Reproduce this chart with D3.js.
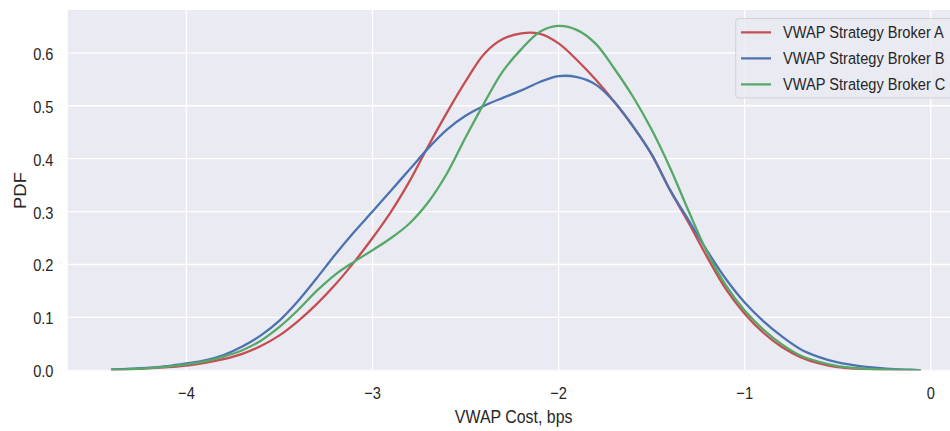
<!DOCTYPE html>
<html>
<head>
<meta charset="utf-8">
<script src="https://cdn.jsdelivr.net/npm/d3@7"></script>
<style>
  html, body { margin: 0; padding: 0; background: #ffffff; }
  svg { display: block; }
  text { font-family: "Liberation Sans", Arial, sans-serif; fill: #262626; }
</style>
</head>
<body>
<svg id="chart" width="950" height="431"></svg>
<script>
// ---- data ----
const xs = [-4.4,-4.3,-4.2,-4.1,-4.0,-3.9,-3.8,-3.7,-3.6,-3.5,-3.4,-3.3,-3.2,-3.1,-3.0,-2.9,-2.8,-2.7,-2.6,-2.5,-2.4,-2.3,-2.2,-2.1,-2.0,-1.9,-1.8,-1.7,-1.6,-1.5,-1.4,-1.3,-1.2,-1.1,-1.0,-0.9,-0.8,-0.7,-0.6,-0.5,-0.4,-0.3,-0.2,-0.1,-0.06];
const brokerA = [0.001,0.002,0.004,0.006,0.009,0.014,0.021,0.031,0.046,0.066,0.093,0.125,0.162,0.204,0.250,0.300,0.358,0.424,0.487,0.546,0.598,0.626,0.637,0.636,0.618,0.586,0.549,0.507,0.461,0.408,0.340,0.278,0.213,0.153,0.107,0.071,0.044,0.025,0.013,0.006,0.003,0.0012,0.0005,0.0002,0.0001];
const brokerB = [0.001,0.003,0.005,0.008,0.013,0.019,0.029,0.045,0.066,0.094,0.131,0.174,0.219,0.261,0.300,0.340,0.380,0.420,0.455,0.481,0.500,0.515,0.529,0.545,0.556,0.554,0.540,0.507,0.461,0.408,0.340,0.283,0.225,0.172,0.128,0.093,0.064,0.040,0.025,0.015,0.009,0.005,0.002,0.001,0.0005];
const brokerC = [0.001,0.002,0.004,0.007,0.011,0.017,0.026,0.038,0.056,0.082,0.114,0.150,0.181,0.205,0.227,0.250,0.278,0.318,0.372,0.440,0.505,0.565,0.607,0.640,0.651,0.643,0.617,0.570,0.517,0.455,0.382,0.300,0.222,0.160,0.113,0.077,0.049,0.028,0.016,0.008,0.004,0.002,0.001,0.0004,0.0002];
const seriesNames = ["VWAP Strategy Broker A","VWAP Strategy Broker B","VWAP Strategy Broker C"];
const seriesColors = ["#C44E52","#4C72B0","#55A868"];
const xTicks = [-4,-3,-2,-1,0];
const yTicks = [0.0,0.1,0.2,0.3,0.4,0.5,0.6];
const xLabel = "VWAP Cost, bps";
const yLabel = "PDF";

// ---- layout ----
const plot = {left: 67.7, top: 10, right: 959.6, bottom: 370.3};
const SX = 0.86; // horizontal text squeeze seen in the reference
const svg = d3.select("#chart");

const x = d3.scaleLinear().domain([-4.638, 0.155]).range([plot.left, plot.right]);
const y = d3.scaleLinear().domain([0, 0.681]).range([plot.bottom, plot.top]);

svg.append("defs").append("clipPath").attr("id","clip")
  .append("rect").attr("x",plot.left).attr("y",plot.top)
  .attr("width",plot.right-plot.left).attr("height",plot.bottom-plot.top);

svg.append("rect").attr("x",plot.left).attr("y",plot.top)
  .attr("width",plot.right-plot.left).attr("height",plot.bottom-plot.top)
  .attr("fill","#EAEAF2");

// gridlines
const grid = svg.append("g").attr("clip-path","url(#clip)");
grid.selectAll("line.gx").data(xTicks).enter().append("line")
  .attr("x1",d=>x(d)).attr("x2",d=>x(d)).attr("y1",plot.top).attr("y2",plot.bottom)
  .attr("stroke","#ffffff").attr("stroke-width",1.3);
grid.selectAll("line.gy").data(yTicks).enter().append("line")
  .attr("x1",plot.left).attr("x2",plot.right).attr("y1",d=>y(d)).attr("y2",d=>y(d))
  .attr("stroke","#ffffff").attr("stroke-width",1.3);

// axes via d3 axis generators (lines hidden, labels styled)
const fmtX = d => d < 0 ? "\u2212" + Math.abs(d) : String(d);
const xAxis = svg.append("g").attr("transform",`translate(0,${plot.bottom})`)
  .call(d3.axisBottom(x).tickValues(xTicks).tickFormat(fmtX).tickSize(0).tickPadding(0));
xAxis.select(".domain").remove();
xAxis.selectAll(".tick").each(function(d){
  d3.select(this).attr("transform", null);
  d3.select(this).select("text")
    .attr("x", 0).attr("y", 0).attr("dy", null)
    .attr("font-size","17px").attr("fill","#262626")
    .attr("transform", `translate(${x(d)},28.7) scale(${SX},1)`);
});

const yAxis = svg.append("g").attr("transform",`translate(${plot.left},0)`)
  .call(d3.axisLeft(y).tickValues(yTicks).tickFormat(d3.format(".1f")).tickSize(0).tickPadding(0));
yAxis.select(".domain").remove();
yAxis.selectAll(".tick").each(function(d){
  d3.select(this).attr("transform", null);
  d3.select(this).select("text")
    .attr("x",0).attr("y",0).attr("dy",null)
    .attr("text-anchor","end")
    .attr("font-size","17px").attr("fill","#262626")
    .attr("transform", `translate(${-14.2},${y(d)+7}) scale(${SX},1)`);
});

// axis titles
svg.append("text").text(xLabel)
  .attr("text-anchor","middle").attr("font-size","18.5px")
  .attr("transform",`translate(${(plot.left+plot.right)/2},423) scale(${SX},1)`);
svg.append("text").text(yLabel)
  .attr("text-anchor","middle").attr("font-size","18.5px")
  .attr("transform",`translate(26,190.5) scale(${SX},1) rotate(-90)`);

// curves
const line = d3.line().x(d=>x(d[0])).y(d=>y(d[1])).curve(d3.curveCatmullRom.alpha(0.5));
const allSeries = [brokerA, brokerB, brokerC];
const curves = svg.append("g").attr("clip-path","url(#clip)");
allSeries.forEach((vals,i)=>{
  curves.append("path")
    .datum(xs.map((v,j)=>[v, vals[j]]))
    .attr("d", line)
    .attr("fill","none")
    .attr("stroke", seriesColors[i])
    .attr("stroke-width", 2.3)
    .attr("stroke-linejoin","round").attr("stroke-linecap","round");
});

// legend
const lg = svg.append("g").attr("clip-path","url(#clip)");
lg.append("rect").attr("x",735.7).attr("y",18.5).attr("width",240).attr("height",79.5)
  .attr("rx",3).attr("ry",3)
  .attr("fill","#EAEAF2").attr("fill-opacity",0.8)
  .attr("stroke","#CCCCCC").attr("stroke-opacity",0.8).attr("stroke-width",1);
seriesNames.forEach((name,i)=>{
  const cy = 32.3 + i*26;
  lg.append("line").attr("x1",741).attr("x2",771).attr("y1",cy).attr("y2",cy)
    .attr("stroke",seriesColors[i]).attr("stroke-width",2.3);
  lg.append("text").text(name).attr("font-size","17px")
    .attr("transform",`translate(783,${cy+6}) scale(${SX},1)`);
});
</script>
</body>
</html>
